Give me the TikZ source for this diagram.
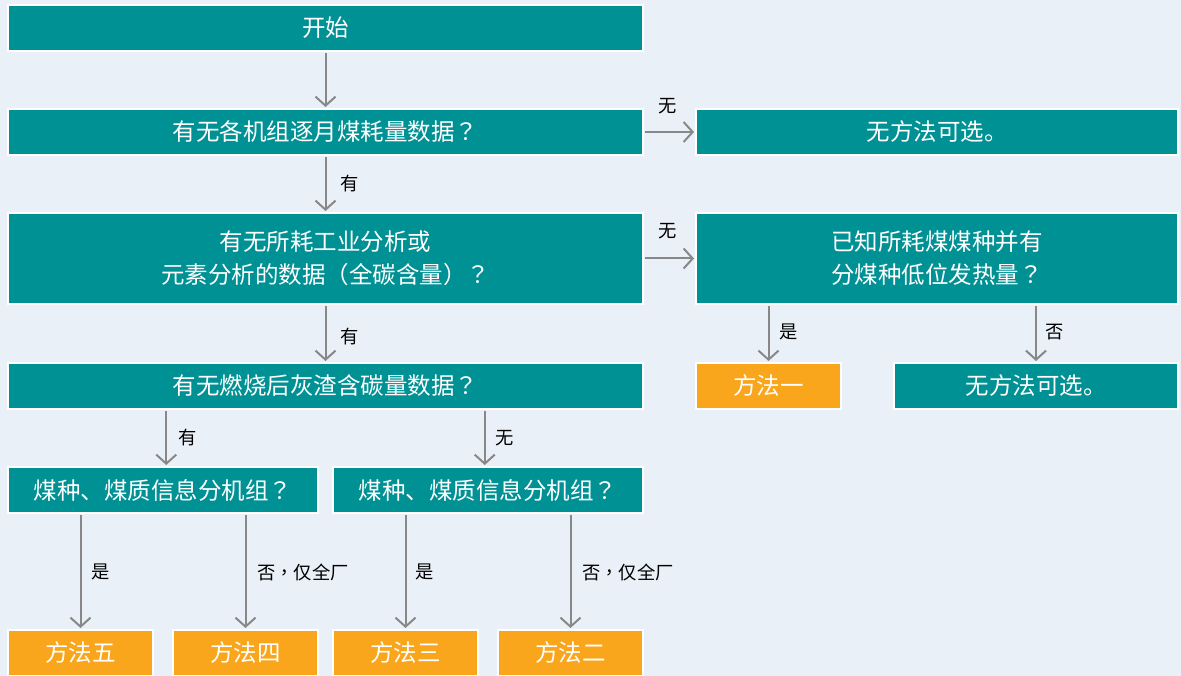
\documentclass[tikz,border=0pt]{standalone}
\usepackage{fontspec}
\setmainfont{Noto Sans CJK SC}
\newfontfamily\tcfont{Noto Sans CJK TC}
\newcommand{\qmk}{{\tcfont ？}}
\newcommand{\cmk}{{\tcfont ，}}
\newcommand{\lpk}{{\tcfont （}}
\newcommand{\rpk}{{\tcfont ）}}
\usetikzlibrary{arrows.meta,calc}
\definecolor{bgc}{HTML}{EAF0F8}
\definecolor{teal}{HTML}{009194}
\definecolor{orng}{HTML}{F9A61C}
\definecolor{arrg}{HTML}{888888}
\tikzset{
  box/.style={draw=white, line width=2pt, text=white, inner sep=0pt,
    font=\fontsize{23.5}{33}\selectfont, align=center},
  tbox/.style={box, fill=teal},
  obox/.style={box, fill=orng},
  arr/.style={draw=arrg, line width=2pt, -{Straight Barb[length=9pt,width=20pt,line width=2pt]}, shorten >=1pt, shorten <=1pt},
  lbl/.style={font=\fontsize{18.3}{18.3}\selectfont, text=black, inner sep=0pt}
}
\begin{document}
\begin{tikzpicture}[x=1pt,y=-1pt]
\fill[bgc] (0,0) rectangle (1181,676);
\useasboundingbox (0,0) rectangle (1181,676);
% nodes
\node[tbox, minimum width=635pt, minimum height=46pt] (start) at (325.5,28) {开始};
\node[tbox, minimum width=635pt, minimum height=46pt] (q1) at (325.5,132) {有无各机组逐月煤耗量数据\qmk};
\node[tbox, minimum width=482pt, minimum height=46pt] (n1) at (937,132) {无方法可选。};
\node[tbox, minimum width=635pt, minimum height=91pt] (q2) at (325.5,258.5) {有无所耗工业分析或\\元素分析的数据\lpk 全碳含量\rpk\qmk};
\node[tbox, minimum width=482pt, minimum height=91pt] (q2b) at (937,258.5) {已知所耗煤煤种并有\\分煤种低位发热量\qmk};
\node[tbox, minimum width=635pt, minimum height=46pt] (q3) at (325.5,386) {有无燃烧后灰渣含碳量数据\qmk};
\node[obox, minimum width=145pt, minimum height=46pt] (m1) at (768.5,386) {方法一};
\node[tbox, minimum width=284pt, minimum height=46pt] (n2) at (1036,386) {无方法可选。};
\node[tbox, minimum width=310pt, minimum height=46pt] (q4a) at (163,490) {煤种、煤质信息分机组\qmk};
\node[tbox, minimum width=310pt, minimum height=46pt] (q4b) at (488,490) {煤种、煤质信息分机组\qmk};
\node[obox, minimum width=145pt, minimum height=46pt] (m5) at (80.5,653) {方法五};
\node[obox, minimum width=145pt, minimum height=46pt] (m4) at (245.5,653) {方法四};
\node[obox, minimum width=145pt, minimum height=46pt] (m3) at (405.5,653) {方法三};
\node[obox, minimum width=145pt, minimum height=46pt] (m2) at (570.5,653) {方法二};
% connectors
\draw[arr] (start) -- (q1);
\draw[arr] (q1) -- (q2);
\draw[arr] (q1) -- (n1);
\draw[arr] (q2) -- (q2b);
\draw[arr] (q2) -- (q3);
\draw[arr] (q2b.south -| m1) -- (m1);
\draw[arr] (q2b.south -| n2) -- (n2);
\coordinate (qa) at ($(q3.south west)!0.25!(q3.south east)$);
\coordinate (qb) at ($(q3.south west)!0.75!(q3.south east)$);
\draw[arr] (qa) -- (qa |- q4a.north);
\draw[arr] (qb) -- (qb |- q4b.north);
\draw[arr] (q4a.south -| m5) -- (m5);
\draw[arr] (q4a.south -| m4) -- (m4);
\draw[arr] (q4b.south -| m3) -- (m3);
\draw[arr] (q4b.south -| m2) -- (m2);
% labels
\node[lbl] (l1) at (350,184) {有};
\node[lbl] (l2) at (668,106) {无};
\node[lbl] (l3) at (668,231) {无};
\node[lbl] (l4) at (350,337) {有};
\node[lbl] (l5) at (789,332) {是};
\node[lbl] (l6) at (1055,332) {否};
\node[lbl] (l7) at (188,438) {有};
\node[lbl] (l8) at (505,438) {无};
\node[lbl] (l9) at (101,572) {是};
\node[lbl, anchor=west] (l10) at (257,572) {否\cmk 仅全厂};
\node[lbl] (l11) at (425,572) {是};
\node[lbl, anchor=west] (l12) at (582,572) {否\cmk 仅全厂};
\end{tikzpicture}
\end{document}
